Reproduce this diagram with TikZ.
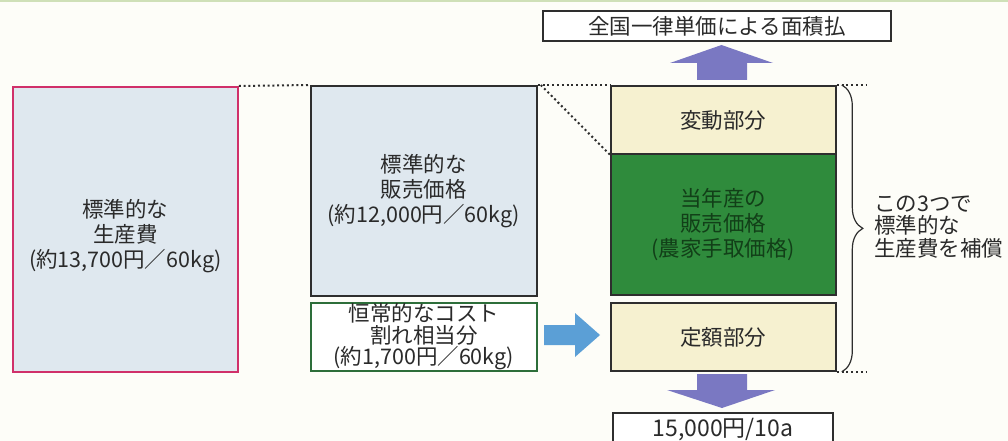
\documentclass[tikz,border=0pt]{standalone}
\usepackage{fontspec}
\setmainfont{Noto Sans CJK JP}
\usetikzlibrary{decorations.pathreplacing,calc}
\definecolor{bgc}{HTML}{FDFDF8}
\definecolor{topband}{HTML}{CFE0B8}
\definecolor{pinkc}{HTML}{D0306A}
\definecolor{bluegray}{HTML}{DFE8EF}
\definecolor{borderc}{HTML}{2E2E2E}
\definecolor{greenbd}{HTML}{2D6E3A}
\definecolor{yellowc}{HTML}{F6F1D0}
\definecolor{greenc}{HTML}{2F8B3C}
\definecolor{greentxt}{HTML}{123F18}
\definecolor{purplec}{HTML}{7A78C2}
\definecolor{bluearr}{HTML}{5B9FD6}
\definecolor{textc}{HTML}{2A2A2A}
\begin{document}
\begin{tikzpicture}[x=1pt,y=-1pt,
  blk/.style={draw=borderc, line width=1.8pt, inner sep=0pt, anchor=north west, align=center, text=textc},
  txt/.style={font=\fontsize{21.5}{25}\selectfont},
  dots/.style={line width=2pt, dash pattern=on 2pt off 2.8pt, draw=borderc},
  lbl/.style={align=center, text=textc, font=\fontsize{21.5}{25}\selectfont}
]
\useasboundingbox (0,0) rectangle (1008,441);
\fill[bgc] (0,0) rectangle (1008,441);
\fill[topband] (0,0) rectangle (1008,2.5);

% left: standard production cost
\node[blk, draw=pinkc, fill=bluegray, minimum width=225, minimum height=285,
  label={[lbl, yshift=-7pt]center:標準的な\\生産費\\(約13,700円／60kg)}] (cost) at (12,86) {};
% middle: standard selling price
\node[blk, txt, fill=bluegray, minimum width=226, minimum height=210] (mid) at (310,85)
  {標準的な\\販売価格\\(約12,000円／60kg)};
% middle small: constant cost shortfall
\node[blk, draw=greenbd, fill=white, font=\fontsize{21.5}{21.5}\selectfont, minimum width=226, minimum height=68] (gap) at (310,302)
  {恒常的なコスト\\割れ相当分\\(約1,700円／60kg)};
% right column
\node[blk, txt, fill=yellowc, minimum width=225, minimum height=68] (var) at (610,85) {変動部分};
\node[blk, fill=greenc, minimum width=225, minimum height=141,
  label={[lbl, text=greentxt]center:{\color{greentxt}当年産の}\\{\color{greentxt}販売価格}\\{\color{greentxt}(農家手取価格)}}] (cur) at (610,153) {};
\node[blk, txt, fill=yellowc, minimum width=225, minimum height=68] (fix) at (610,302) {定額部分};
% top and bottom boxes
\node[blk, font=\fontsize{21.5}{25}\selectfont, fill=white, minimum width=348, minimum height=30] (area) at (542,10) {全国一律単価による面積払};
\node[blk, font=\fontsize{23}{25}\selectfont, fill=white, minimum width=220, minimum height=34] (rate) at (612,412) {15,000円/10a};
% right note
\node[anchor=west, align=left, text=textc, font=\fontsize{21.5}{22.5}\selectfont, inner sep=0pt] (note) at (874,227)
  {この3つで\\標準的な\\生産費を補償};

% dotted guide lines
\coordinate (diagstart) at ($(mid.north east)+(3,0)$);
\coordinate (bt) at ($(var.north east)+(30,0)$);
\coordinate (bb) at ($(fix.south east)+(30,0)$);
\draw[dots] (cost.north east) -- (mid.north west);
\draw[dots] (mid.north east) -- (var.north west);
\draw[dots] (diagstart) -- (var.south west);
\draw[dots] (var.north east) -- (bt);
\draw[dots] (fix.south east) -- (bb);

% brace
\coordinate (brt) at ($(var.north east)+(5,0)$);
\coordinate (brb) at ($(fix.south east)+(5,0)$);
\draw[decorate, decoration={brace, amplitude=21pt}, line width=1.2pt, draw=borderc] (brt) -- (brb);

% block arrows
\fill[purplec] (697,80) -- (697,63) -- (670,63) -- (721.5,45) -- (773,63) -- (747,63) -- (747,80) -- cycle;
\fill[purplec] (697,374) -- (747,374) -- (747,390) -- (775,390) -- (722,408) -- (667,390) -- (697,390) -- cycle;
\fill[bluearr] (544,325) -- (575,325) -- (575,313) -- (600,335) -- (575,357) -- (575,345) -- (544,345) -- cycle;
\end{tikzpicture}
\end{document}
